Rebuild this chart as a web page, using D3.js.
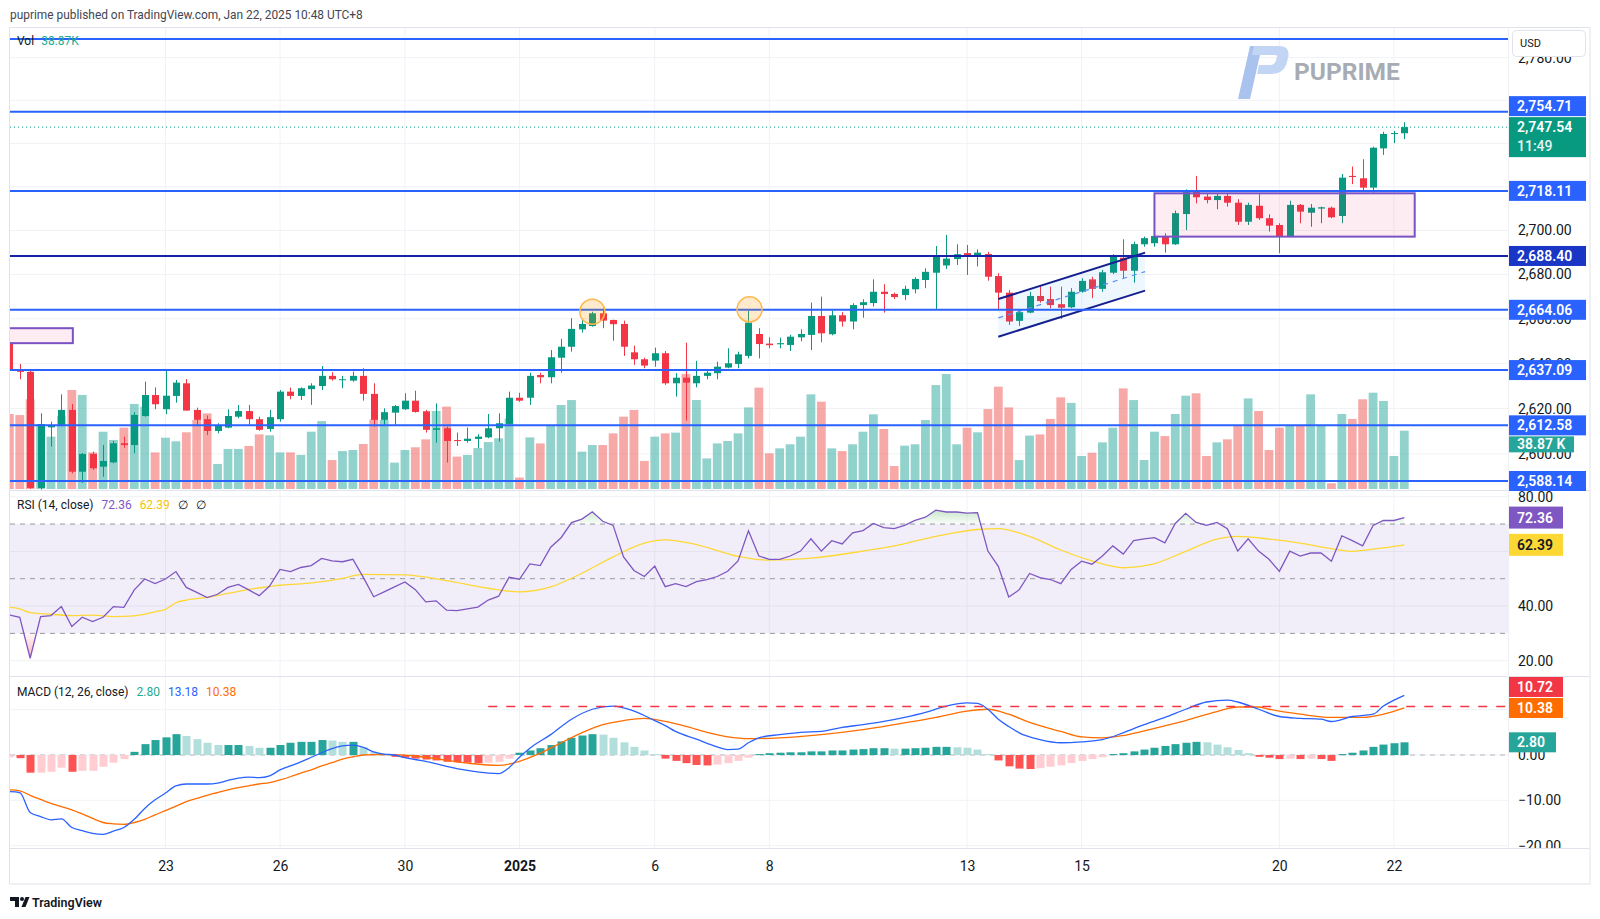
<!DOCTYPE html>
<html><head><meta charset="utf-8"><title>XAUUSD 4H</title>
<script src="https://cdn.jsdelivr.net/npm/d3@7/dist/d3.min.js"></script>
<style>html,body{margin:0;padding:0;background:#fff;}svg{display:block;}</style>
</head><body>
<svg id="chart" width="1600" height="919"></svg>
<script>
// ---------------- DATA ----------------
const opens=[2649.1,2636.8,2636.3,2585.1,2611.7,2612.8,2619.4,2592.2,2600.0,2594.4,
2596.3,2604.7,2603.9,2616.7,2626.0,2619.7,2625.6,2631.2,2619.4,2615.3,
2610.1,2611.6,2616.4,2618.9,2615.3,2611.0,2615.3,2627.5,2625.6,2628.6,
2630.0,2634.5,2632.6,2632.4,2634.5,2626.5,2615.0,2618.2,2619.7,2623.5,
2618.8,2610.6,2611.3,2606.1,2605.7,2606.6,2607.3,2611.3,2613.2,2624.8,
2624.8,2634.9,2633.9,2642.6,2647.5,2655.3,2656.8,2662.5,2659.5,2657.7,
2645.0,2641.9,2641.3,2644.6,2631.2,2633.7,2631.2,2634.5,2635.7,2638.2,
2639.8,2643.4,2653.2,2648.9,2648.6,2648.3,2651.7,2652.8,2661.3,2653.1,
2661.6,2658.8,2666.2,2667.1,2672.2,2671.2,2670.7,2673.3,2677.5,2680.8,
2684.1,2687.0,2689.7,2688.5,2689.3,2679.3,2671.8,2659.1,2662.8,2670.3,
2668.9,2666.6,2665.2,2672.2,2677.8,2673.5,2680.8,2687.6,2681.7,2693.7,
2694.2,2697.2,2693.7,2707.5,2718.1,2715.5,2713.9,2715.8,2712.7,2704.0,
2711.3,2705.6,2702.5,2697.2,2711.7,2708.1,2710.0,2710.4,2706.6,2725.0,
2723.9,2719.6,2737.7,2744.4,2744.7];
const highs=[2649.5,2639.8,2636.7,2617.9,2614.2,2626.3,2622.0,2600.4,2601.0,2603.9,
2605.7,2607.6,2618.4,2631.9,2629.4,2636.7,2632.7,2633.1,2620.4,2616.9,
2613.5,2619.7,2621.6,2621.6,2616.4,2619.4,2628.2,2629.3,2629.4,2631.2,
2638.9,2636.1,2634.5,2636.4,2637.9,2631.2,2620.1,2621.6,2626.8,2627.9,
2619.4,2622.3,2612.0,2609.4,2611.6,2608.7,2617.6,2617.9,2627.5,2627.0,
2635.9,2635.9,2646.0,2651.0,2660.3,2659.5,2663.2,2664.8,2659.6,2659.2,
2648.0,2642.6,2647.1,2645.6,2635.7,2649.3,2641.2,2636.8,2640.8,2646.8,
2645.3,2663.7,2655.8,2651.7,2651.6,2652.8,2655.3,2667.3,2670.0,2663.7,
2663.0,2667.0,2668.8,2677.8,2675.6,2671.8,2674.9,2678.8,2682.8,2692.9,
2698.0,2693.7,2693.4,2691.4,2690.3,2680.6,2673.0,2664.3,2672.2,2674.8,
2674.5,2674.5,2673.8,2678.3,2679.0,2682.1,2689.2,2696.0,2694.9,2697.2,
2698.3,2698.7,2709.1,2718.8,2725.0,2716.7,2717.0,2716.7,2714.3,2712.7,
2716.6,2707.4,2703.3,2713.6,2712.1,2712.1,2710.9,2710.9,2725.9,2729.3,
2732.7,2738.5,2745.4,2745.8,2749.8];
const lows=[2636.8,2633.0,2584.7,2584.4,2603.2,2612.1,2591.5,2587.3,2593.0,2590.0,
2595.9,2602.7,2600.3,2616.4,2619.7,2617.5,2622.6,2619.1,2612.8,2608.3,
2609.1,2611.3,2615.7,2612.8,2610.2,2609.8,2614.2,2624.1,2623.8,2621.6,
2628.2,2632.4,2629.0,2631.9,2623.5,2612.0,2612.8,2612.8,2619.4,2618.2,
2609.4,2604.9,2596.2,2603.5,2604.9,2602.5,2606.9,2605.4,2612.8,2623.0,
2621.6,2631.2,2631.2,2635.9,2645.3,2653.8,2656.5,2655.8,2650.2,2643.4,
2639.4,2637.9,2638.6,2630.5,2625.3,2614.7,2629.4,2633.0,2633.0,2637.9,
2637.9,2642.3,2642.3,2646.8,2646.8,2645.6,2649.9,2646.0,2649.5,2652.6,
2656.5,2655.3,2660.5,2665.5,2662.8,2668.9,2668.5,2671.5,2673.8,2664.0,
2682.5,2684.3,2679.8,2683.7,2677.2,2664.3,2657.3,2656.8,2662.5,2667.3,
2664.8,2660.0,2664.8,2671.8,2669.3,2672.2,2680.2,2678.3,2676.3,2692.6,
2692.6,2689.9,2693.4,2700.2,2712.4,2712.4,2709.7,2710.9,2702.5,2702.5,
2704.8,2699.5,2689.6,2697.0,2703.3,2701.7,2703.3,2705.6,2703.3,2721.2,
2718.5,2717.3,2734.7,2740.1,2742.0];
const closes=[2637.1,2636.3,2585.1,2613.1,2612.5,2619.4,2592.2,2600.0,2593.7,2596.9,
2604.7,2603.9,2617.2,2626.0,2621.9,2625.7,2631.5,2619.1,2615.0,2610.1,
2612.3,2616.7,2618.9,2615.3,2610.6,2616.2,2627.5,2625.6,2629.0,2630.2,
2634.5,2633.0,2633.0,2634.5,2626.5,2615.0,2618.4,2621.1,2623.5,2618.5,
2610.6,2611.3,2605.7,2605.7,2606.7,2607.6,2611.3,2613.5,2624.8,2623.5,
2634.5,2633.9,2642.8,2647.5,2655.5,2657.7,2662.5,2659.2,2657.6,2647.5,
2641.9,2639.1,2644.6,2631.2,2633.7,2631.5,2634.5,2635.9,2638.6,2640.1,
2644.1,2658.3,2648.7,2648.2,2649.1,2652.0,2653.2,2661.3,2653.5,2661.6,
2658.8,2666.2,2667.5,2672.2,2671.2,2669.8,2673.5,2678.0,2681.2,2688.1,
2687.2,2689.2,2688.8,2689.9,2679.0,2671.8,2658.8,2663.0,2670.3,2668.0,
2666.2,2665.0,2672.2,2677.1,2673.5,2681.0,2688.1,2681.7,2693.8,2696.5,
2697.5,2693.7,2707.9,2718.2,2715.2,2713.9,2715.8,2712.7,2704.0,2711.7,
2705.6,2702.2,2697.2,2711.7,2708.6,2710.4,2710.6,2706.0,2724.2,2724.5,
2719.6,2738.0,2744.4,2744.8,2747.54];
const volumesK=[50,49.3,59.8,43.3,34.9,48.7,66,62.7,24.4,38.2,
32.7,40.9,56.7,54.9,24.4,34.2,31.8,37.8,46,50.4,
16.7,26.7,26.7,28.7,36.4,35.8,24.4,24.4,22.7,38.2,
45.3,19.3,25.3,26,30,46.4,46,17.6,26,27.8,
33.1,52,54.9,21.6,22.7,27.3,31.3,33.8,47.1,7.6,
34.4,30.4,42.7,56,59.3,24.9,29.3,29.3,37.1,48.2,
52.7,18.7,34.9,37.1,37.6,76.7,59.3,20.4,30.4,32,
37.1,54.4,67.6,23.8,27.1,29.8,34.9,63.1,58.2,27.1,
25.3,29.8,38.2,49.8,40,15.3,28.9,29.8,46,69.3,
76.7,29.8,40.9,37.8,53.3,68.2,54.4,19.3,35.6,36.4,
46.7,61.1,57.4,22,24.2,31.1,40.9,67.1,59.3,19.3,
38.2,35.3,50,62.2,63.8,22,31.1,33.1,42,60.4,
52,26,40.9,42,42,63.1,42,3.8,50,46.7,
59.8,64.2,58.7,22,38.87];
const rsiValues=[36.7,35.9,20.9,36.1,36.5,39.8,32.5,35.9,34.3,35.9,
39.8,39.5,45.9,49.9,48.2,49.9,52.6,46.8,45.0,43.1,
44.3,46.8,47.9,45.9,43.8,47.3,53.4,52.6,54.1,54.8,
57.4,56.5,56.2,57.1,50.5,43.4,45.2,47.0,48.8,46.0,
41.5,41.9,38.5,38.3,39.0,39.6,42.2,43.6,50.5,49.8,
55.4,54.8,61.5,65.0,70.5,71.8,74.5,71.0,69.5,58.0,
53.0,50.8,54.6,47.1,48.2,47.1,48.9,49.7,50.8,52.7,
56.5,67.5,58.3,57.1,57.1,58.3,60.1,64.6,60.1,63.9,
62.7,66.8,67.6,70.2,68.7,68.3,69.5,71.3,72.5,75.1,
74.4,74.4,74.0,74.2,60.1,54.5,43.3,45.9,51.9,50.4,
49.7,48.2,53.4,56.4,55.3,58.3,62.0,59.0,63.9,64.6,
65.0,63.1,70.2,73.9,70.6,69.5,70.6,68.3,60.1,64.6,
60.1,57.1,52.7,60.1,58.3,59.4,59.4,56.4,65.7,63.9,
62.0,69.5,71.3,71.3,72.36];
// RSI moving average, read at [bar index, value]
const rsiMA=[[0,39.5],[1,39.0],[2,37.6],[4,37.0],[6,36.5],[8,36.7],[10,36.1],[12,36.4],[14,37.9],[15,38.8],[16,41.2],[17,42.2],[19,43.2],[21,44.6],[23,46.1],[25,47.1],[26,47.6],[28,48.1],[30,48.9],[32,50.1],[33,51.0],[34,51.6],[38,51.4],[42,49.3],[46,46.5],[49,45.2],[52,47.0],[55,52.0],[58,58.0],[61,63.0],[63,64.2],[66,62.5],[70,58.2],[73,56.8],[77,57.5],[81,59.5],[85,62.0],[89,65.5],[93,68.0],[95,68.3],[98,65.5],[101,60.5],[104,56.5],[107,54.0],[110,55.5],[113,60.0],[116,64.5],[118,65.5],[121,64.5],[124,63.0],[127,61.0],[129,60.0],[131,60.8],[134,62.39]];
// MACD line: per bar for the first bars, then read points [index, value]
const macdFirst=[-8.1,-8.3,-12.7,-13.6,-14.3,-14.1,-16.0,-16.7,-17.3,-17.5,-16.8,-16.0,-14.2,-11.8,-9.9,-8.4,-6.8,-6.4,-6.4,-6.4,-6.2,-5.6,-5.1,-4.9,-5.0,-4.6,-3.3,-2.4,-1.5,-0.5,0.5,1.4,2.0,2.2,1.7,0.7,0.2,0.0];
const macdLater=[[38,-0.6],[40,-1.4],[42,-2.5],[44,-3.4],[46,-4.0],[47,-4.1],[48,-2.8],[49,-0.5],[50,1.5],[52,4.5],[54,7.9],[56,10.1],[58,10.8],[60,9.7],[62,7.6],[63,6.5],[64,5.2],[66,3.5],[68,1.8],[69,1.2],[70,1.3],[71,2.7],[72,3.8],[74,4.5],[76,5.0],[78,5.2],[80,6.1],[82,6.7],[84,7.4],[86,8.3],[88,9.4],[90,10.8],[92,11.5],[93,11.4],[94,10.1],[95,7.9],[96,6.3],[97,4.9],[99,3.4],[101,2.7],[103,2.9],[105,3.4],[107,4.9],[109,6.7],[111,8.3],[113,10.1],[115,11.7],[117,12.1],[118,11.7],[120,10.1],[122,8.5],[124,8.1],[126,7.9],[127,7.4],[129,8.5],[131,9.0],[132,10.8],[133,12.1],[134,13.18]];
const signalLine=[[0,-7.7],[1,-7.9],[2,-8.9],[3,-9.8],[4,-10.7],[5,-11.4],[6,-12.1],[7,-13.0],[8,-14.0],[9,-14.9],[10,-15.2],[11,-15.3],[12,-14.9],[13,-14.2],[14,-13.2],[15,-12.3],[16,-11.3],[17,-10.3],[18,-9.6],[19,-8.9],[20,-8.3],[21,-7.7],[22,-7.2],[23,-6.8],[24,-6.4],[25,-6.1],[26,-5.5],[27,-4.8],[28,-4.0],[29,-3.3],[30,-2.4],[31,-1.7],[32,-0.9],[33,-0.4],[34,0.0],[35,0.1],[37,0.1],[40,-0.5],[44,-1.8],[47,-2.3],[49,-1.4],[51,0.4],[53,2.7],[55,4.9],[57,6.7],[59,7.6],[61,8.1],[63,7.4],[65,6.3],[67,5.0],[69,4.0],[71,3.6],[74,3.8],[78,4.5],[82,5.6],[85,6.7],[89,8.3],[92,9.7],[94,10.1],[96,9.0],[98,7.2],[101,5.2],[103,4.0],[105,3.8],[107,4.3],[110,5.9],[113,7.6],[116,9.6],[118,10.6],[120,10.6],[121,10.1],[124,9.0],[127,8.3],[130,8.3],[132,9.0],[134,10.38]];
const histValues=[-0.5,-0.7,-3.9,-3.9,-3.7,-2.8,-3.7,-3.5,-3.5,-2.6,-1.7,-0.9,0.7,2.4,3.3,3.9,4.6,4.2,3.5,2.7,2.2,2.2,2.2,2.0,1.6,1.6,2.2,2.7,2.9,2.9,3.3,3.2,2.9,2.9,1.7,0.7,0.2,-0.4,
-0.6,-0.8,-1.0,-1.2,-1.5,-1.6,-1.7,-1.8,-1.7,-1.5,
-0.8,0.5,1.0,1.5,2.2,3.0,3.8,4.3,4.6,4.5,
3.8,2.8,1.8,1.0,0.2,-0.8,-1.3,-1.8,-2.2,-2.3,
-2.1,-1.8,-1.3,-0.6,0.2,0.4,0.5,0.6,0.6,0.8,
0.8,1.0,1.0,1.2,1.3,1.5,1.5,1.4,1.4,1.5,
1.6,1.8,1.8,1.7,1.6,1.2,0.2,-1.2,-2.5,-3.0,
-3.1,-2.9,-2.6,-2.3,-1.8,-1.3,-0.9,-0.5,0.2,0.4,
0.8,1.2,1.6,2.0,2.4,2.7,2.9,2.8,2.3,1.7,
1.1,0.4,-0.4,-0.6,-0.9,-0.8,-0.9,-0.8,-0.9,-1.3,
0.2,0.5,1.0,1.8,2.3,2.6,2.8];
const priceGrid=[2600,2620,2640,2660,2680,2700,2720,2740,2760,2780];
const priceTickLabels=[2600,2620,2640,2660,2680,2700,2780]; // others hidden under label boxes
const rsiGrid=[20,40,60,80];
const rsiTickLabels=[20,40,80];
const macdGrid=[-20,-10,0,10];
const macdTickLabels=[-20,-10,0];
const dateTickIndex=[15,26,38,49,62,73,92,103,122,133];
const dateTickLabels=["23","26","30","2025","6","8","13","15","20","22"];
// user drawings (bar index / price)
const levelLines=[2754.71,2718.11,2688.40,2664.06,2637.09,2612.58,2588.14];
const topLevel=2788.8;
const lastPrice=2747.54, countdown="11:49", lastVolume="38.87 K";
const boxes=[{i0:-3,i1:6.1,p0:2655.8,p1:2649.1},{i0:110,i1:135,p0:2717.0,p1:2697.2}];
const channelUpper=[[95,2668.9],[109.1,2689.9]];
const channelLower=[[95,2652.0],[109.1,2672.7]];
const markerCircles=[[56,2663.2],[71.1,2664.3]];
const macdLevel={value:10.72,from:46};

// ---------------- LAYOUT ----------------
const PL=10, PR=1508, AXR=1590;
const MAIN=[27,490], RSIP=[490,676], MACDP=[676,848], BOTTOM=884;
const FONT="Roboto, 'Noto Sans', 'Open Sans', sans-serif";
const GRID="#f0f2f6";
const UP="#089981", DOWN="#f23645";

const svg=d3.select("#chart");
svg.append("rect").attr("width",1600).attr("height",919).attr("fill","#fff");
const defs=svg.append("defs");
function clip(id,x0,y0,x1,y1){defs.append("clipPath").attr("id",id).append("rect").attr("x",x0).attr("y",y0).attr("width",x1-x0).attr("height",y1-y0);}
clip("cMain",PL,MAIN[0],PR,MAIN[1]);
clip("cRsi",PL,RSIP[0],PR,RSIP[1]);
clip("cMacd",PL,MACDP[0],PR,MACDP[1]);
clip("cMacdAx",PR,MACDP[0],AXR,MACDP[1]);

// scales
const N=closes.length;
const x=d3.scaleLinear().domain([0,N-1]).range([9.35,1404.3]);
const yP=d3.scaleLog().domain([2588.14,2754.71]).range([481,111.7]);
const yV=d3.scaleLinear().domain([0,100]).range([489,339]);
const yR=d3.scaleLinear().domain([20,80]).range([660.7,496.7]);
const yM=d3.scaleLinear().domain([-20,10]).range([845.6,709.7]);

// title
svg.append("text").attr("x",10).attr("y",19).attr("font-family",FONT).attr("font-size",11.9).attr("fill","#434651")
  .text("puprime published on TradingView.com, Jan 22, 2025 10:48 UTC+8");

// frame
const frame=svg.append("g");
frame.append("rect").attr("x",9.5).attr("y",27.5).attr("width",AXR-9.5).attr("height",BOTTOM-27.5).attr("fill","none").attr("stroke","#e0e3eb");
[MAIN[1],RSIP[1]].forEach(y=>frame.append("line").attr("x1",PL).attr("x2",AXR).attr("y1",y+0.5).attr("y2",y+0.5).attr("stroke","#e0e3eb"));
frame.append("line").attr("x1",PL).attr("x2",AXR).attr("y1",MACDP[1]+0.5).attr("y2",MACDP[1]+0.5).attr("stroke","#e0e3eb");
frame.append("line").attr("x1",PR+0.5).attr("x2",PR+0.5).attr("y1",27).attr("y2",MACDP[1]).attr("stroke","#eef0f3");

// grids
const grid=svg.append("g");
dateTickIndex.forEach(i=>{[MAIN,RSIP,MACDP].forEach(p=>grid.append("line").attr("x1",x(i)).attr("x2",x(i)).attr("y1",p[0]+1).attr("y2",p[1]).attr("stroke",GRID));});
priceGrid.forEach(v=>grid.append("line").attr("x1",PL).attr("x2",PR).attr("y1",yP(v)).attr("y2",yP(v)).attr("stroke",GRID).attr("clip-path","url(#cMain)"));

// ---------------- MAIN PANE ----------------
const gm=svg.append("g").attr("clip-path","url(#cMain)");
// volume
gm.append("g").selectAll("rect").data(volumesK).join("rect")
  .attr("x",(d,i)=>x(i)-4.4).attr("width",8.8)
  .attr("y",d=>yV(d)).attr("height",d=>yV(0)-yV(d))
  .attr("fill",(d,i)=>closes[i]>=opens[i]?"rgba(38,166,154,0.5)":"rgba(239,83,80,0.5)");
// candles
const cg=gm.append("g");
cg.selectAll("line").data(closes).join("line")
  .attr("x1",(d,i)=>Math.round(x(i))+0.5).attr("x2",(d,i)=>Math.round(x(i))+0.5)
  .attr("y1",(d,i)=>yP(highs[i])).attr("y2",(d,i)=>yP(lows[i]))
  .attr("stroke",(d,i)=>d>=opens[i]?UP:DOWN).attr("stroke-width",1);
cg.selectAll("rect").data(closes).join("rect")
  .attr("x",(d,i)=>Math.round(x(i))+0.5-3.5).attr("width",7)
  .attr("y",(d,i)=>yP(Math.max(d,opens[i])))
  .attr("height",(d,i)=>Math.max(1,yP(Math.min(d,opens[i]))-yP(Math.max(d,opens[i]))))
  .attr("fill",(d,i)=>d>=opens[i]?UP:DOWN);

// drawings
const dg=gm.append("g");
boxes.forEach(b=>dg.append("rect").attr("x",x(b.i0)).attr("y",yP(b.p0)).attr("width",x(b.i1)-x(b.i0)).attr("height",yP(b.p1)-yP(b.p0))
  .attr("fill","rgba(233,30,99,0.08)").attr("stroke","#7b52c4").attr("stroke-width",2));
const chPoly=[channelUpper[0],channelUpper[1],channelLower[1],channelLower[0]];
dg.append("path").attr("d",d3.line().x(d=>x(d[0])).y(d=>yP(d[1]))(chPoly)+"Z").attr("fill","rgba(33,150,243,0.08)");
[channelUpper,channelLower].forEach(l=>dg.append("path").attr("d",d3.line().x(d=>x(d[0])).y(d=>yP(d[1]))(l)).attr("stroke","#15208f").attr("stroke-width",2).attr("fill","none"));
const mid=channelUpper.map((d,k)=>[d[0],(d[1]+channelLower[k][1])/2]);
dg.append("path").attr("d",d3.line().x(d=>x(d[0])).y(d=>yP(d[1]))(mid)).attr("stroke","#5b8ff6").attr("stroke-width",1.2).attr("stroke-dasharray","5,5").attr("fill","none");
dg.append("line").attr("x1",PL).attr("x2",PR).attr("y1",yP(topLevel)).attr("y2",yP(topLevel)).attr("stroke","#2962ff").attr("stroke-width",2);
levelLines.forEach(v=>dg.append("line").attr("x1",PL).attr("x2",PR).attr("y1",yP(v)).attr("y2",yP(v))
  .attr("stroke",v===2688.40?"#1423a8":"#2962ff").attr("stroke-width",2));
dg.append("line").attr("x1",PL).attr("x2",PR).attr("y1",yP(lastPrice)).attr("y2",yP(lastPrice)).attr("stroke",UP).attr("stroke-dasharray","1,3");
markerCircles.forEach(c=>dg.append("circle").attr("cx",x(c[0])).attr("cy",yP(c[1])).attr("r",12.5)
  .attr("fill","rgba(255,152,0,0.2)").attr("stroke","#ffb74d").attr("stroke-width",1.5));

// PUPRIME watermark
const wm=svg.append("g");
wm.append("path").attr("d","M1238,99 L1250,99 L1262,46 L1250,46 Z").attr("fill","#a9c2ee");
wm.append("path").attr("d","M1254,46 L1279,46 Q1291,46 1288,58 L1287,62 Q1284,74 1271,74 L1257,74 L1259,65 L1270,65 Q1275,65 1276,60 L1277,57 Q1278,55 1274,55 L1252,55 Z").attr("fill","#c3d5f4");
wm.append("text").attr("x",1294).attr("y",80).attr("font-family",FONT).attr("font-weight",700).attr("font-size",24.5).attr("fill","#a7acb4").text("PUPRIME");

// legend main
const lg=svg.append("text").attr("x",17).attr("y",45).attr("font-family",FONT).attr("font-size",12);
lg.append("tspan").attr("fill","#131722").text("Vol");
lg.append("tspan").attr("dx",7).attr("fill","#22ab94").text("38.87K");

// ---------------- RSI PANE ----------------
const gr=svg.append("g").attr("clip-path","url(#cRsi)");
rsiGrid.forEach(v=>gr.append("line").attr("x1",PL).attr("x2",PR).attr("y1",yR(v)).attr("y2",yR(v)).attr("stroke",GRID));
gr.append("rect").attr("x",PL).attr("width",PR-PL).attr("y",yR(70)).attr("height",yR(30)-yR(70)).attr("fill","rgba(126,87,194,0.1)");
[70,50,30].forEach(v=>gr.append("line").attr("x1",PL).attr("x2",PR).attr("y1",yR(v)).attr("y2",yR(v)).attr("stroke","#9598a1").attr("stroke-dasharray","5,5"));
const gOB=defs.append("linearGradient").attr("id","gOB").attr("gradientUnits","userSpaceOnUse").attr("x1",0).attr("x2",0).attr("y1",yR(78)).attr("y2",yR(70));
gOB.append("stop").attr("offset",0).attr("stop-color","rgba(76,175,80,0.45)");
gOB.append("stop").attr("offset",1).attr("stop-color","rgba(76,175,80,0.03)");
const gOS=defs.append("linearGradient").attr("id","gOS").attr("gradientUnits","userSpaceOnUse").attr("x1",0).attr("x2",0).attr("y1",yR(30)).attr("y2",yR(20));
gOS.append("stop").attr("offset",0).attr("stop-color","rgba(242,54,69,0.03)");
gOS.append("stop").attr("offset",1).attr("stop-color","rgba(242,54,69,0.4)");
clip("cOB",PL,RSIP[0],PR,yR(70));
clip("cOS",PL,yR(30),PR,RSIP[1]);
gr.append("path").datum(rsiValues).attr("d",d3.area().x((d,i)=>x(i)).y0(yR(70)).y1(d=>yR(d))).attr("fill","url(#gOB)").attr("clip-path","url(#cOB)");
gr.append("path").datum(rsiValues).attr("d",d3.area().x((d,i)=>x(i)).y0(yR(30)).y1(d=>yR(d))).attr("fill","url(#gOS)").attr("clip-path","url(#cOS)");
gr.append("path").datum(rsiMA).attr("d",d3.line().curve(d3.curveMonotoneX).x(d=>x(d[0])).y(d=>yR(d[1]))).attr("fill","none").attr("stroke","#fdd835").attr("stroke-width",1.3);
gr.append("path").datum(rsiValues).attr("d",d3.line().x((d,i)=>x(i)).y(d=>yR(d))).attr("fill","none").attr("stroke","#7e57c2").attr("stroke-width",1.3);
const lr=svg.append("text").attr("x",17).attr("y",509).attr("font-family",FONT).attr("font-size",12);
lr.append("tspan").attr("fill","#131722").text("RSI (14, close)");
lr.append("tspan").attr("dx",8).attr("fill","#7e57c2").text("72.36");
lr.append("tspan").attr("dx",8).attr("fill","#f5c400").text("62.39");
lr.append("tspan").attr("dx",8).attr("fill","#131722").text("∅");
lr.append("tspan").attr("dx",8).attr("fill","#131722").text("∅");

// ---------------- MACD PANE ----------------
const gmc=svg.append("g").attr("clip-path","url(#cMacd)");
macdGrid.forEach(v=>gmc.append("line").attr("x1",PL).attr("x2",PR).attr("y1",yM(v)).attr("y2",yM(v)).attr("stroke",GRID));
gmc.append("line").attr("x1",PL).attr("x2",PR).attr("y1",yM(0)).attr("y2",yM(0)).attr("stroke","#b2b5be").attr("stroke-dasharray","5,5");
function histColor(i){const v=histValues[i],p=i>0?histValues[i-1]:v;if(v>=0)return v>=p?"#26a69a":"#b2dfdb";return v<p?"#ff5252":"#ffcdd2";}
gmc.append("g").selectAll("rect").data(histValues).join("rect")
  .attr("x",(d,i)=>Math.round(x(i))+0.5-4).attr("width",8)
  .attr("y",d=>Math.min(yM(d),yM(0))).attr("height",d=>Math.max(1,Math.abs(yM(d)-yM(0))))
  .attr("fill",(d,i)=>histColor(i));
const macdPts=macdFirst.map((v,i)=>[i,v]).concat(macdLater);
gmc.append("path").datum(signalLine).attr("d",d3.line().curve(d3.curveMonotoneX).x(d=>x(d[0])).y(d=>yM(d[1]))).attr("fill","none").attr("stroke","#ff6d00").attr("stroke-width",1.3);
gmc.append("path").datum(macdPts).attr("d",d3.line().curve(d3.curveMonotoneX).x(d=>x(d[0])).y(d=>yM(d[1]))).attr("fill","none").attr("stroke","#2962ff").attr("stroke-width",1.3);
gmc.append("line").attr("x1",x(macdLevel.from)).attr("x2",PR).attr("y1",yM(macdLevel.value)).attr("y2",yM(macdLevel.value)).attr("stroke","#f23645").attr("stroke-width",1.5).attr("stroke-dasharray","9,9");
const lmc=svg.append("text").attr("x",17).attr("y",696).attr("font-family",FONT).attr("font-size",12);
lmc.append("tspan").attr("fill","#131722").text("MACD (12, 26, close)");
lmc.append("tspan").attr("dx",8).attr("fill","#22ab94").text("2.80");
lmc.append("tspan").attr("dx",8).attr("fill","#2962ff").text("13.18");
lmc.append("tspan").attr("dx",8).attr("fill","#ff6d00").text("10.38");

// ---------------- AXES ----------------
function styleAxis(g,size){g.select(".domain").remove();g.selectAll(".tick line").remove();g.attr("font-family",FONT).attr("font-size",size);g.selectAll("text").attr("fill","#131722");}
const fmt=d3.format(",.2f");
const axP=svg.append("g").attr("transform",`translate(${PR},0)`).call(d3.axisRight(yP).tickValues(priceTickLabels).tickFormat(fmt).tickSize(0).tickPadding(10));
styleAxis(axP,14);
const axR=svg.append("g").attr("transform",`translate(${PR},0)`).call(d3.axisRight(yR).tickValues(rsiTickLabels).tickFormat(fmt).tickSize(0).tickPadding(10));
styleAxis(axR,14);
const axM=svg.append("g").attr("clip-path","url(#cMacdAx)").append("g").attr("transform",`translate(${PR},0)`).call(d3.axisRight(yM).tickValues(macdTickLabels).tickFormat(fmt).tickSize(0).tickPadding(10));
styleAxis(axM,14);
const axT=svg.append("g").attr("transform",`translate(0,${MACDP[1]})`).call(d3.axisBottom(x).tickValues(dateTickIndex).tickFormat((d,k)=>dateTickLabels[k]).tickSize(0).tickPadding(13));
styleAxis(axT,14);
axT.selectAll("text").attr("font-weight",d=>d===49?700:400);

// USD box (covers the top of the 2,780.00 label as in the original)
svg.append("rect").attr("x",1512.5).attr("y",30.5).attr("width",73).attr("height",26).attr("rx",4).attr("fill","#fff").attr("stroke","#e0e3eb");
svg.append("text").attr("x",1520).attr("y",47).attr("font-family",FONT).attr("font-size",11).attr("fill","#131722").text("USD");

// ---------------- PRICE LABEL BOXES ----------------
function place(items){const placed=[];items.forEach(it=>{let c=it.y;for(let k=0;k<8;k++){let mv=false;for(const p of placed){const t=c-it.h/2,b=c+it.h/2;if(b>p.t&&t<p.b){c=(it.y<(p.t+p.b)/2)?p.t-it.h/2-1:p.b+it.h/2+1;mv=true;}}if(!mv)break;}it.cy=c;placed.push({t:c-it.h/2,b:c+it.h/2});});return items;}
const lastY=yP(lastPrice);
const priceItems=[{y:lastY+10,h:40,kind:"last"}]
  .concat(levelLines.map(v=>({y:yP(v),h:20,kind:"level",v})))
  .concat([{y:yV(volumesK[N-1]),h:16,kind:"vol"}]);
place(priceItems);
const lb=svg.append("g").attr("font-family",FONT);
priceItems.forEach(it=>{
  if(it.kind==="last"){
    lb.append("rect").attr("x",PR+1).attr("y",it.cy-20).attr("width",77).attr("height",40).attr("fill",UP);
    lb.append("text").attr("x",PR+9).attr("y",it.cy-5).attr("font-size",14).attr("font-weight",600).attr("fill","#fff").text(fmt(lastPrice));
    lb.append("text").attr("x",PR+9).attr("y",it.cy+14).attr("font-size",14).attr("font-weight",500).attr("fill","#e6f4f1").text(countdown);
  } else if(it.kind==="level"){
    lb.append("rect").attr("x",PR+1).attr("y",it.cy-10).attr("width",77).attr("height",20).attr("fill",it.v===2688.40?"#1a36c6":"#2962ff");
    lb.append("text").attr("x",PR+9).attr("y",it.cy+5).attr("font-size",14).attr("font-weight",600).attr("fill","#fff").text(fmt(it.v));
  } else {
    lb.append("rect").attr("x",PR+1).attr("y",it.cy-8).attr("width",65).attr("height",16).attr("fill","#26a69a");
    lb.append("text").attr("x",PR+9).attr("y",it.cy+5).attr("font-size",14).attr("font-weight",600).attr("fill","#fff").text(lastVolume);
  }
});
const ind=[
  {y:yR(rsiValues[N-1]),h:22,fill:"#7e57c2",tc:"#fff",t:"72.36",w:54},
  {y:yR(62.39),h:22,fill:"#fdd835",tc:"#131722",t:"62.39",w:54}];
place(ind);
const mItems=[
  {y:yM(10.38),h:20,fill:"#ff6d00",tc:"#fff",t:"10.38",w:54},
  {y:yM(histValues[N-1]),h:20,fill:"#26a69a",tc:"#fff",t:"2.80",w:47},
  {y:yM(macdLevel.value),h:20,fill:"#f23645",tc:"#fff",t:"10.72",w:54}];
place(mItems);
ind.concat(mItems).forEach(it=>{
  lb.append("rect").attr("x",PR+1).attr("y",it.cy-it.h/2).attr("width",it.w).attr("height",it.h).attr("fill",it.fill);
  lb.append("text").attr("x",PR+9).attr("y",it.cy+5).attr("font-size",14).attr("font-weight",600).attr("fill",it.tc).text(it.t);
});

// TradingView footer logo
const tv=svg.append("g");
tv.append("path").attr("d","M10,897 L19,897 L19,907 L15,907 L15,901 L10,901 Z").attr("fill","#131722");
tv.append("circle").attr("cx",22).attr("cy",899).attr("r",2).attr("fill","#131722");
tv.append("path").attr("d","M21.5,907 L25.5,897 L29.5,897 L25.5,907 Z").attr("fill","#131722");
tv.append("text").attr("x",32).attr("y",907).attr("font-family",FONT).attr("font-size",12.5).attr("font-weight",600).attr("fill","#131722").text("TradingView");
</script>
</body></html>
